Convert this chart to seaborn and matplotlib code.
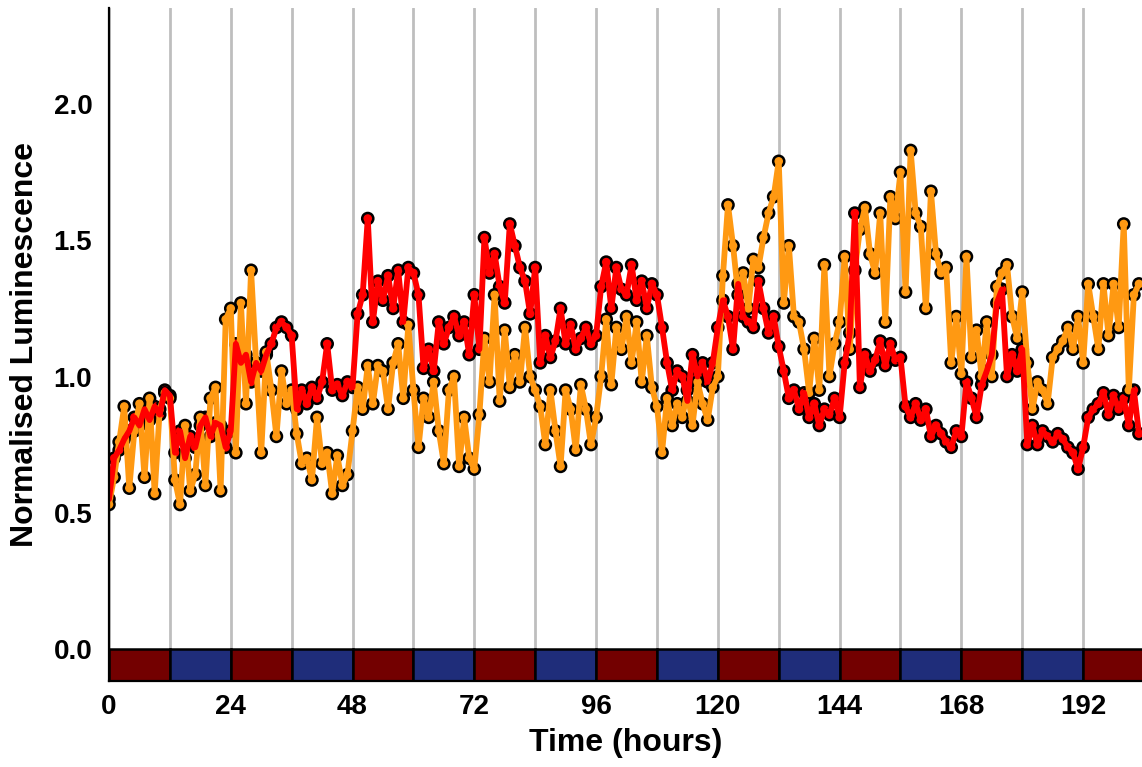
import matplotlib
matplotlib.use("Agg")
import matplotlib.pyplot as plt
import pandas as pd
import seaborn as sns

# ---------------- data ----------------
hours = list(range(204))

red = [
    0.55, 0.70, 0.73, 0.77, 0.80, 0.85, 0.82, 0.88, 0.84, 0.89, 0.86, 0.95,
    0.93, 0.72, 0.80, 0.70, 0.78, 0.74, 0.82, 0.85, 0.78, 0.83, 0.82, 0.74,
    0.80, 1.12, 1.05, 1.08, 0.98, 1.05, 1.02, 1.08, 1.12, 1.18, 1.20, 1.18,
    1.15, 0.88, 0.95, 0.90, 0.96, 0.92, 0.98, 1.12, 0.95, 0.97, 0.93, 0.98,
    0.96, 1.23, 1.30, 1.58, 1.20, 1.35, 1.28, 1.37, 1.25, 1.39, 1.20, 1.40,
    1.38, 1.30, 1.03, 1.10, 1.02, 1.20, 1.12, 1.18, 1.22, 1.15, 1.20, 1.08,
    1.30, 1.10, 1.51, 1.38, 1.45, 1.33, 1.27, 1.56, 1.48, 1.40, 1.35, 1.23,
    1.40, 1.05, 1.15, 1.07, 1.13, 1.25, 1.12, 1.19, 1.10, 1.14, 1.18, 1.12,
    1.15, 1.33, 1.42, 1.25, 1.40, 1.32, 1.30, 1.41, 1.28, 1.35, 1.25, 1.34,
    1.30, 1.18, 1.05, 0.95, 1.02, 1.00, 0.91, 1.08, 1.00, 1.05, 0.98, 1.05,
    1.18, 1.28, 1.22, 1.10, 1.34, 1.22, 1.20, 1.18, 1.35, 1.25, 1.16, 1.22,
    1.11, 1.02, 0.92, 0.95, 0.88, 0.94, 0.85, 0.90, 0.82, 0.88, 0.86, 0.92,
    0.85, 1.05, 1.16, 1.60, 0.96, 1.08, 1.02, 1.06, 1.13, 1.04, 1.12, 1.06,
    1.07, 0.89, 0.85, 0.90, 0.84, 0.88, 0.78, 0.82, 0.79, 0.76, 0.74, 0.80,
    0.78, 0.98, 0.92, 0.85, 0.97, 1.02, 1.08, 1.27, 1.32, 1.00, 1.08, 1.02,
    1.10, 0.75, 0.82, 0.75, 0.80, 0.78, 0.76, 0.79, 0.77, 0.74, 0.72, 0.66,
    0.74, 0.85, 0.88, 0.90, 0.94, 0.86, 0.93, 0.88, 0.92, 0.82, 0.95, 0.79,
]

orange = [
    0.53, 0.63, 0.76, 0.89, 0.59, 0.80, 0.90, 0.63, 0.92, 0.57, 0.88, 0.94,
    0.92, 0.62, 0.53, 0.82, 0.58, 0.64, 0.85, 0.60, 0.92, 0.96, 0.58, 1.21,
    1.25, 0.72, 1.27, 0.90, 1.39, 1.05, 0.72, 1.09, 0.95, 0.78, 1.02, 0.90,
    0.95, 0.79, 0.68, 0.70, 0.62, 0.85, 0.68, 0.72, 0.57, 0.71, 0.60, 0.64,
    0.80, 0.96, 0.88, 1.04, 0.90, 1.04, 1.02, 0.88, 1.05, 1.12, 0.92, 1.19,
    0.95, 0.74, 0.92, 0.85, 0.98, 0.80, 0.68, 0.95, 1.00, 0.67, 0.85, 0.70,
    0.66, 0.86, 1.14, 0.98, 1.30, 0.91, 1.17, 0.96, 1.08, 0.98, 1.18, 1.00,
    0.95, 0.89, 0.75, 0.95, 0.80, 0.67, 0.95, 0.88, 0.73, 0.97, 0.88, 0.75,
    0.85, 1.00, 1.21, 0.97, 1.18, 1.10, 1.22, 1.05, 1.20, 0.98, 1.15, 0.96,
    0.89, 0.72, 0.92, 0.82, 0.90, 0.85, 0.95, 0.82, 0.98, 0.90, 0.84, 0.96,
    1.00, 1.37, 1.63, 1.48, 1.30, 1.38, 1.25, 1.43, 1.40, 1.51, 1.60, 1.66,
    1.79, 1.27, 1.48, 1.22, 1.20, 1.10, 0.94, 1.14, 0.95, 1.41, 1.00, 1.12,
    1.20, 1.44, 1.10, 1.39, 1.54, 1.62, 1.45, 1.38, 1.60, 1.20, 1.66, 1.58,
    1.75, 1.31, 1.83, 1.60, 1.55, 1.25, 1.68, 1.45, 1.38, 1.40, 1.05, 1.22,
    1.01, 1.44, 1.07, 1.17, 1.00, 1.20, 1.00, 1.33, 1.38, 1.41, 1.22, 1.14,
    1.31, 1.05, 0.88, 0.98, 0.95, 0.90, 1.07, 1.10, 1.13, 1.18, 1.10, 1.22,
    1.05, 1.34, 1.22, 1.10, 1.34, 1.15, 1.34, 1.18, 1.56, 0.95, 1.30, 1.34,
]

phase_starts = list(range(0, 204, 12))
phase_names = ["light" if i % 2 == 0 else "dark" for i in range(len(phase_starts))]
x_ticks = [0, 24, 48, 72, 96, 120, 144, 168, 192]
y_ticks = [0.0, 0.5, 1.0, 1.5, 2.0]

# ---------------- style ----------------
RED = "#FF0000"
ORANGE = "#FF9912"
phase_colors = {"light": "#730000", "dark": "#1F2D7A"}

sns.set_style("white")
plt.rcParams["font.family"] = ["Liberation Sans", "DejaVu Sans"]
plt.rcParams["font.weight"] = "bold"
plt.rcParams["text.color"] = "black"
plt.rcParams["axes.labelcolor"] = "black"

W, H = 1142, 767
fig = plt.figure(figsize=(W / 100, H / 100), dpi=100)
ax = fig.add_axes([109 / W, 1 - 681 / H, 1 - 109 / W, (681 - 8) / H])

df = pd.DataFrame({
    "Time": hours + hours,
    "Lum": red + orange,
    "Series": ["red"] * len(hours) + ["orange"] * len(hours),
})

# vertical grid every 12 h
ax.set_xticks(list(range(0, 216, 12)), minor=True)
ax.grid(axis="x", which="both", color="#BEBEBE", linewidth=2.0, zorder=0)
ax.grid(axis="y", visible=False)
ax.set_axisbelow(True)

sns.scatterplot(data=df, x="Time", y="Lum", hue="Series",
                palette={"red": RED, "orange": ORANGE}, s=64,
                edgecolor="black", linewidth=1.8, legend=False, ax=ax, zorder=2)
sns.lineplot(data=df[df.Series == "orange"], x="Time", y="Lum", color=ORANGE,
             linewidth=4.2, ax=ax, zorder=3)
sns.lineplot(data=df[df.Series == "red"], x="Time", y="Lum", color=RED,
             linewidth=4.2, ax=ax, zorder=4)

ax.bar(phase_starts, 0.118, width=12, bottom=-0.118, align="edge",
       color=[phase_colors[p] for p in phase_names], edgecolor="black",
       linewidth=1.8, zorder=5, clip_on=True)

ax.set_xlim(0, 203.6)
ax.set_ylim(-0.118, 2.353)
ax.set_xticks(x_ticks)
ax.set_yticks(y_ticks)
ax.set_xticklabels([str(t) for t in x_ticks])
ax.set_yticklabels([f"{t:.1f}" for t in y_ticks])

for side in ["top", "right"]:
    ax.spines[side].set_visible(False)
for side in ["left", "bottom"]:
    ax.spines[side].set_color("black")
    ax.spines[side].set_linewidth(1.6)
    ax.spines[side].set_zorder(6)

ax.tick_params(axis="both", which="major", length=5, width=1.6, color="black",
               labelsize=20, labelcolor="black")
ax.tick_params(axis="x", which="major", pad=4)
ax.tick_params(axis="y", which="major", pad=7)
ax.tick_params(axis="x", which="minor", length=0)
for lab in ax.get_xticklabels() + ax.get_yticklabels():
    lab.set_fontweight("bold")

ax.set_xlabel("Time (hours)", fontsize=23, fontweight="bold", labelpad=6,
              color="black")
ax.set_ylabel("Normalised Luminescence", fontsize=23, fontweight="bold",
              labelpad=10, color="black")

fig.savefig("out.png", dpi=100)
